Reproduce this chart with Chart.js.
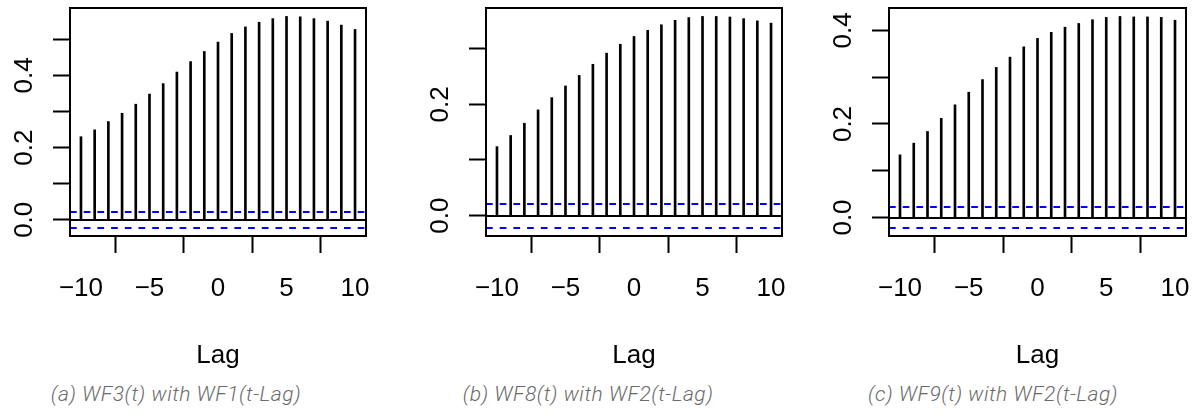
<!DOCTYPE html>
<html>
<head>
<meta charset="utf-8">
<script src="https://cdn.jsdelivr.net/npm/chart.js@4.4.1/dist/chart.umd.min.js"></script>
<style>
  html, body { margin: 0; padding: 0; background: #fff; }
  body { width: 1200px; height: 416px; position: relative; overflow: hidden; }
  canvas.panel { position: absolute; top: 0; }
  .cap {
    position: absolute; top: 384px; line-height: 20px; white-space: nowrap;
    font-family: "Roboto", "Open Sans", sans-serif; font-style: italic; font-weight: 300;
    font-size: 21px; letter-spacing: 0.5px;
    color: #6a6a6a; transform: translateX(-50%);
  }
</style>
</head>
<body>
<canvas id="pa" class="panel" width="400" height="380" style="left:0px"></canvas>
<canvas id="pb" class="panel" width="400" height="380" style="left:400px"></canvas>
<canvas id="pc" class="panel" width="400" height="380" style="left:800px"></canvas>
<div class="cap" id="ca" style="left:176px"></div>
<div class="cap" id="cb" style="left:588px"></div>
<div class="cap" id="cc" style="left:993px"></div>
<script>
// Cross-correlation at lags -10..10
const lags = [-10, -9, -8, -7, -6, -5, -4, -3, -2, -1, 0, 1, 2, 3, 4, 5, 6, 7, 8, 9, 10];
const ccfWF3vsWF1 = [0.230, 0.249, 0.272, 0.295, 0.320, 0.348, 0.377, 0.409, 0.438, 0.466, 0.492,
                     0.516, 0.534, 0.547, 0.557, 0.563, 0.562, 0.557, 0.550, 0.539, 0.527];
const ccfWF8vsWF2 = [0.124, 0.144, 0.166, 0.190, 0.212, 0.233, 0.252, 0.272, 0.292, 0.308, 0.322,
                     0.333, 0.343, 0.351, 0.356, 0.358, 0.358, 0.357, 0.354, 0.350, 0.346];
const ccfWF9vsWF2 = [0.134, 0.159, 0.184, 0.212, 0.241, 0.268, 0.295, 0.321, 0.343, 0.365, 0.383,
                     0.396, 0.407, 0.415, 0.423, 0.428, 0.430, 0.429, 0.429, 0.428, 0.422];

// 95% significance bound (±2/sqrt(n))
const confLimit = 0.0215;

// Axis ticks and their labels
const xTicks = [-10, -5, 0, 5, 10];
const xTickLabels = ['\u221210', '\u22125', '0', '5', '10'];
const yTicksA = [0, 0.1, 0.2, 0.3, 0.4, 0.5];
const yTickLabelsA = ['0.0', '', '0.2', '', '0.4', ''];
const yTicksB = [0, 0.1, 0.2, 0.3];
const yTickLabelsB = ['0.0', '', '0.2', ''];
const yTicksC = [0, 0.1, 0.2, 0.3, 0.4];
const yTickLabelsC = ['0.0', '', '0.2', '', '0.4'];
const xAxisTitle = 'Lag';

const captionA = '(a) WF3(t) with WF1(t-Lag)';
const captionB = '(b) WF8(t) with WF2(t-Lag)';
const captionC = '(c) WF9(t) with WF2(t-Lag)';

const AXIS_FONT = '26px "Liberation Sans", Arial, Helvetica, sans-serif';
const BOX_TOP = 8, BOX_BOTTOM = 236, CANVAS_H = 380;

// Frame, zero line, significance bounds and axis text
const acfDecor = {
  id: 'acfDecor',
  afterDatasetsDraw(chart, args, opts) {
    const { ctx, chartArea: a, scales: { x, y } } = chart;
    ctx.save();
    // zero line
    ctx.strokeStyle = '#000';
    ctx.lineWidth = 2;
    const y0 = Math.round(y.getPixelForValue(0));
    ctx.beginPath(); ctx.moveTo(a.left, y0); ctx.lineTo(a.right, y0); ctx.stroke();
    // significance bounds
    ctx.strokeStyle = '#0000ff';
    ctx.setLineDash([6.7, 7]);
    for (const v of [confLimit, -confLimit]) {
      const py = Math.round(y.getPixelForValue(v));
      ctx.beginPath(); ctx.moveTo(a.left, py); ctx.lineTo(a.right, py); ctx.stroke();
    }
    ctx.setLineDash([]);
    // plot box
    ctx.strokeStyle = '#000';
    ctx.strokeRect(Math.round(a.left), Math.round(a.top), Math.round(a.width), Math.round(a.height));
    // x tick labels
    ctx.fillStyle = '#000';
    ctx.font = AXIS_FONT;
    ctx.textAlign = 'center';
    ctx.textBaseline = 'alphabetic';
    xTicks.forEach((v, i) => ctx.fillText(xTickLabels[i], x.getPixelForValue(v), a.bottom + 60));
    // axis title
    ctx.fillText(xAxisTitle, (a.left + a.right) / 2, a.bottom + 127);
    // y tick labels, rotated as in base graphics
    opts.yTicks.forEach((v, i) => {
      const label = opts.yLabels[i];
      if (!label) return;
      ctx.save();
      ctx.translate(a.left - 38, y.getPixelForValue(v));
      ctx.rotate(-Math.PI / 2);
      ctx.fillText(label, 0, 0);
      ctx.restore();
    });
    ctx.restore();
  }
};

function makePanel(id, values, yTicks, yLabels, boxLeft, rightPad) {
  const lo = Math.min(-confLimit, ...values);
  const hi = Math.max(confLimit, ...values);
  const ext = (hi - lo) * 0.04;
  const xLo = lags[0] - (lags[lags.length - 1] - lags[0]) * 0.04;
  const xHi = lags[lags.length - 1] + (lags[lags.length - 1] - lags[0]) * 0.04;
  const tickGrid = {
    display: true, drawOnChartArea: false, drawTicks: true,
    tickLength: 17, tickWidth: 2, tickColor: '#000'
  };
  return new Chart(document.getElementById(id), {
    type: 'bar',
    data: {
      datasets: [{
        data: lags.map((l, i) => ({ x: l, y: values[i] })),
        backgroundColor: '#000',
        borderWidth: 0,
        barThickness: 2
      }]
    },
    options: {
      responsive: false,
      animation: false,
      events: [],
      layout: { autoPadding: false, padding: { left: 0, right: rightPad, top: BOX_TOP, bottom: 0 } },
      plugins: {
        legend: { display: false },
        tooltip: { enabled: false },
        acfDecor: { yTicks, yLabels }
      },
      scales: {
        x: {
          type: 'linear', offset: false, min: xLo, max: xHi,
          grid: tickGrid, border: { display: false },
          ticks: { display: false },
          afterBuildTicks: s => { s.ticks = xTicks.map(v => ({ value: v })); },
          afterFit: s => { s.height = CANVAS_H - BOX_BOTTOM; }
        },
        y: {
          type: 'linear', min: lo - ext, max: hi + ext,
          grid: tickGrid, border: { display: false },
          ticks: { display: false },
          afterBuildTicks: s => { s.ticks = yTicks.map(v => ({ value: v })); },
          afterFit: s => { s.width = boxLeft; }
        }
      }
    },
    plugins: [acfDecor]
  });
}

makePanel('pa', ccfWF3vsWF1, yTicksA, yTickLabelsA, 70, 34);
makePanel('pb', ccfWF8vsWF2, yTicksB, yTickLabelsB, 86, 18);
makePanel('pc', ccfWF9vsWF2, yTicksC, yTickLabelsC, 89, 14);

document.getElementById('ca').textContent = captionA;
document.getElementById('cb').textContent = captionB;
document.getElementById('cc').textContent = captionC;
</script>
</body>
</html>
